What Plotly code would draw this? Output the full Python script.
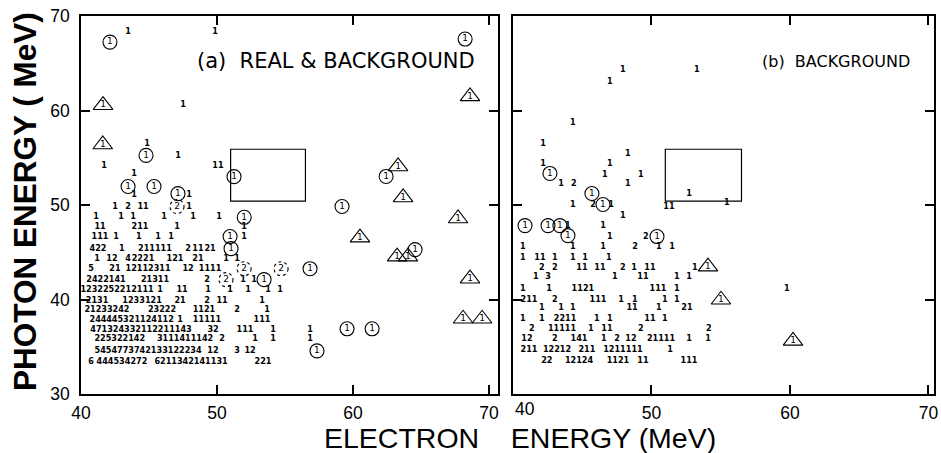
import plotly.graph_objects as go

# ---------------- data (electron energy x, photon energy y, MeV) ----------------
# Panel (a) REAL & BACKGROUND: plain counts, one list per row of photon energy
A_row_y = [68.3, 60.56, 56.5, 55.25, 54.2, 53.3, 51.1, 49.84, 48.78, 47.72, 46.66,
           45.38, 44.32, 43.26, 42.10, 41.03, 39.87, 38.91, 37.85, 36.79, 35.84,
           34.56, 33.40]
A_row_items = [
    [(43.46, "1"), (49.85, "1")],
    [(47.5, "1")],
    [(44.85, "1")],
    [(47.13, "1")],
    [(41.7, "1"), (50.07, "11")],
    [(43.9, "1")],
    [(43.9, "1"), (47.94, "1")],
    [(42.5, "1"), (43.46, "2"), (44.56, "11"), (47.94, "1")],
    [(41.1, "1"), (42.94, "1"), (43.82, "1"), (46.11, "1"), (48.24, "1"), (50.15, "1")],
    [(41.40, "11"), (44.34, "211"), (47.06, "1"), (51.99, "1")],
    [(41.40, "111"), (42.57, "1"), (44.26, "1"), (45.66, "1"), (46.62, "1"), (51.99, "1")],
    [(41.25, "422"), (43.01, "1"), (45.44, "211111"), (47.87, "2"), (48.6, "11"), (49.49, "21")],
    [(41.18, "1"), (42.28, "12"), (43.46, "4"), (44.56, "2221"), (46.91, "121"), (48.6, "21"),
     (50.66, "1"), (51.47, "1")],
    [(40.74, "5"), (42.5, "21"), (44.93, "12112311"), (47.87, "12"), (49.49, "1111")],
    [(41.84, "2422141"), (45.44, "21311"), (49.26, "2"), (51.91, "1"), (52.72, "1")],
    [(42.65, "1232252212111"), (45.81, "1"), (47.43, "11"), (49.34, "1"), (50.96, "1"),
     (52.28, "1"), (53.75, "1"), (54.63, "1")],
    [(41.18, "2131"), (44.49, "1233121"), (47.28, "21"), (49.26, "2"), (50.37, "11"), (53.31, "1")],
    [(41.91, "21233242"), (45.96, "23222"), (49.04, "1121"), (51.47, "2"), (53.68, "1")],
    [(41.25, "244"), (44.34, "445321124112"), (47.28, "1"), (49.26, "11111"), (53.31, "111")],
    [(44.41, "471324332112211143"), (49.71, "32"), (52.06, "111"), (54.12, "1"), (56.84, "1")],
    [(42.85, "225322142"), (47.65, "3111411142"), (50.37, "2"), (52.79, "1"), (54.12, "1"), (56.84, "1")],
    [(44.93, "5454773742133122234"), (49.7, "12"), (51.47, "3"), (52.43, "12")],
    [(40.74, "6"), (43.01, "444534272"), (48.09, "6211342141131"), (53.38, "221")],
]
A_circ_x = [42.13, 44.78, 51.25, 43.46, 45.37, 47.13, 52.0, 50.96, 51.03, 53.46,
            56.84, 57.35, 59.56, 61.4, 64.56, 68.24, 62.43, 59.19]
A_circ_y = [67.24, 55.25, 53.0, 51.96, 51.96, 51.2, 48.7, 46.66, 45.38, 42.1,
            43.26, 34.56, 36.9, 36.9, 45.28, 67.56, 53.02, 49.84]
A_tri_x = [41.62, 41.6, 60.51, 63.24, 64.04, 68.6, 68.09, 69.49, 68.6, 63.31, 63.68, 67.72]
A_tri_y = [60.56, 56.4, 46.55, 44.54, 44.54, 42.2, 37.96, 37.96, 61.5, 54.08, 50.8, 48.57]
A_dash_x = [47.06, 51.99, 54.71, 50.66]
A_dash_y = [49.84, 43.26, 43.26, 42.1]
A_dash_t = ["2", "2", "2", "2"]

# Panel (b) BACKGROUND
B_row_y = [64.27, 63.0, 58.75, 56.53, 55.46, 54.4, 53.24, 52.28, 51.22, 50.27, 50.05,
           49.84, 48.88, 47.82, 46.66, 45.6, 44.43, 43.37, 42.41, 41.14, 39.97, 39.12,
           37.96, 36.9, 35.84, 34.67, 33.5]
B_row_items = [
    [(47.94, "1"), (53.28, "1")],
    [(47.0, "1")],
    [(44.33, "1")],
    [(42.17, "1")],
    [(48.3, "1")],
    [(42.17, "1"), (47.0, "1")],
    [(46.64, "1"), (49.24, "1")],
    [(43.47, "1"), (44.4, "2"), (48.3, "1")],
    [(52.71, "1")],
    [(55.45, "1")],
    [(44.33, "1"), (45.78, "2"), (47.08, "1")],
    [(51.26, "11")],
    [(47.94, "1")],
    [(43.97, "1"), (46.5, "1")],
    [(47.0, "1"), (49.6, "2")],
    [(40.72, "1"), (44.33, "1"), (46.5, "1"), (48.81, "2"), (50.54, "1"), (51.48, "1")],
    [(40.72, "1"), (41.95, "11"), (43.03, "1"), (44.33, "1"), (45.2, "1"), (46.93, "1")],
    [(42.09, "2"), (43.03, "2"), (44.98, "11"), (46.28, "11"), (47.94, "2"), (48.74, "1"),
     (49.89, "11"), (53.14, "1")],
    [(41.66, "1"), (42.53, "3"), (47.36, "1"), (49.39, "11"), (51.84, "1"), (52.71, "1")],
    [(40.72, "1"), (42.6, "1"), (45.05, "1121"), (50.47, "111"), (51.84, "1"), (59.78, "1")],
    [(41.16, "211"), (43.03, "2"), (46.14, "111"), (47.8, "1"), (48.8, "1"), (50.97, "1"), (51.84, "1")],
    [(42.09, "1"), (43.47, "1"), (44.33, "1"), (48.6, "11"), (50.54, "1"), (52.56, "21")],
    [(40.72, "1"), (42.09, "1"), (43.76, "2211"), (46.06, "1"), (47.0, "1"), (49.89, "11"), (50.97, "1")],
    [(41.37, "2"), (43.54, "11111"), (45.63, "1"), (46.79, "11"), (49.24, "2"), (54.15, "2")],
    [(41.01, "12"), (43.03, "2"), (44.77, "141"), (46.57, "1"), (47.51, "2"), (48.52, "12"),
     (50.69, "21111"), (52.71, "1"), (54.08, "1")],
    [(41.16, "211"), (43.18, "12212"), (45.34, "211"), (47.94, "1211111"), (51.34, "1")],
    [(42.45, "22"), (44.77, "12124"), (47.58, "1121"), (49.39, "11"), (52.71, "111")],
]
B_circ_x = [42.67, 45.7, 46.5, 40.87, 42.53, 43.39, 43.97, 50.4]
B_circ_y = [53.34, 51.22, 50.05, 47.82, 47.82, 47.82, 46.76, 46.66]
B_tri_x = [54.08, 55.02, 60.22]
B_tri_y = [43.48, 39.97, 35.62]

# signal box (electron 51-56.5 MeV, photon 50.4-55.9 MeV)
BOX_X = [51.0, 56.5]
BOX_Y = [50.4, 55.9]

X_TICKS = [40, 50, 60, 70]
Y_TICKS = [30, 40, 50, 60, 70]

# ---------------- figure ----------------
NUM_FONT = dict(family="DejaVu Sans Condensed, DejaVu Sans", size=9, color="black", weight="bold")
MARK_FONT = dict(family="DejaVu Sans", size=9, color="black")


def flatten(rows_y, rows_items):
    xs, ys, ts = [], [], []
    for y, items in zip(rows_y, rows_items):
        for x, t in items:
            xs.append(x)
            ys.append(y)
            ts.append(t)
    return xs, ys, ts


fig = go.Figure()


def add_panel(xa, ya, rows_y, rows_items, cx, cy, tx, ty):
    xs, ys, ts = flatten(rows_y, rows_items)
    fig.add_trace(go.Scatter(x=xs, y=ys, text=ts, mode="text", textfont=NUM_FONT,
                             textposition="middle center", xaxis=xa, yaxis=ya,
                             showlegend=False, hoverinfo="skip"))
    fig.add_trace(go.Scatter(x=cx, y=cy, text=["1"] * len(cx), mode="markers+text",
                             marker=dict(symbol="circle-open", size=14,
                                         color="black", line=dict(width=1.1, color="black")),
                             textfont=MARK_FONT, textposition="middle center",
                             xaxis=xa, yaxis=ya, showlegend=False, hoverinfo="skip"))
    fig.add_trace(go.Scatter(x=tx, y=ty, text=["1"] * len(tx), mode="markers+text",
                             marker=dict(symbol="triangle-up-open", size=17,
                                         color="black", line=dict(width=1.1, color="black")),
                             textfont=MARK_FONT, textposition="middle center",
                             xaxis=xa, yaxis=ya, showlegend=False, hoverinfo="skip"))


add_panel("x", "y", A_row_y, A_row_items, A_circ_x, A_circ_y, A_tri_x, A_tri_y)
add_panel("x2", "y2", B_row_y, B_row_items, B_circ_x, B_circ_y, B_tri_x, B_tri_y)

# dashed circled "2"
fig.add_trace(go.Scatter(x=A_dash_x, y=A_dash_y, text=A_dash_t, mode="text",
                         textfont=MARK_FONT, textposition="middle center",
                         xaxis="x", yaxis="y", showlegend=False, hoverinfo="skip"))

shapes = []
for x, y in zip(A_dash_x, A_dash_y):
    shapes.append(dict(type="circle", xref="x", yref="y", xsizemode="pixel", ysizemode="pixel",
                       xanchor=x, yanchor=y, x0=-7, x1=7, y0=-7, y1=7,
                       line=dict(color="black", width=1.1, dash="dot")))
for xr, yr in (("x", "y"), ("x2", "y2")):
    shapes.append(dict(type="rect", xref=xr, yref=yr, x0=BOX_X[0], x1=BOX_X[1],
                       y0=BOX_Y[0], y1=BOX_Y[1], line=dict(color="black", width=1.2)))

TICK_FONT = dict(family="Liberation Sans, Arial", size=17.5, color="black")
axis_common = dict(showline=True, linecolor="black", linewidth=1.5, mirror="ticks",
                   ticks="inside", ticklen=9, tickwidth=1.5, tickcolor="black",
                   showgrid=False, zeroline=False, tickfont=TICK_FONT, automargin=False)

fig.update_layout(
    width=941, height=453,
    margin=dict(l=81, r=7, t=16, b=59),
    paper_bgcolor="white", plot_bgcolor="white",
    xaxis=dict(domain=[0, 0.4889], range=[40, 70.66], tickvals=X_TICKS,
               ticklabelstandoff=2, anchor="y", **axis_common),
    yaxis=dict(domain=[0, 1], range=[30, 70], tickvals=Y_TICKS,
               ticklabelstandoff=6, anchor="x", **axis_common),
    xaxis2=dict(domain=[0.5064, 1], range=[40, 70.4], tickvals=X_TICKS,
                ticktext=["", "50", "60", "70"], ticklabelstandoff=2, anchor="y2", **axis_common),
    yaxis2=dict(domain=[0, 1], range=[30, 70], tickvals=Y_TICKS, showticklabels=False,
                anchor="x2", **axis_common),
    shapes=shapes,
    annotations=[
        dict(text="(a)\u00a0\u00a0REAL & BACKGROUND", x=48.38, y=65.2, xref="x", yref="y",
             xanchor="left", yanchor="middle", showarrow=False,
             font=dict(family="DejaVu Sans", size=21, color="black")),
        dict(text="(b)\u00a0\u00a0BACKGROUND", x=57.83, y=65.2, xref="x2", yref="y2",
             xanchor="left", yanchor="middle", showarrow=False,
             font=dict(family="DejaVu Sans", size=16, color="black")),
        dict(text="40", x=40, y=0, xref="x2", yref="paper", xanchor="center", yanchor="top",
             xshift=12, yshift=-3, showarrow=False, font=TICK_FONT),
        dict(text="ELECTRON\u00a0\u00a0\u00a0\u00a0ENERGY (MeV)", x=0.5147, y=-0.1164,
             xref="paper", yref="paper", xanchor="center", yanchor="middle", showarrow=False,
             font=dict(family="Liberation Sans, Arial", size=28.5, color="black")),
        dict(text="PHOTON ENERGY ( MeV)", x=-0.0657, y=0.5106, xref="paper", yref="paper",
             xanchor="center", yanchor="middle", textangle=-90, showarrow=False,
             font=dict(family="Liberation Sans, Arial", size=31.5, color="black", weight="bold")),
    ],
)

fig.write_html("out.html", config={"displayModeBar": False},
               post_script="document.body.style.margin='0px';document.body.style.overflow='hidden';")
